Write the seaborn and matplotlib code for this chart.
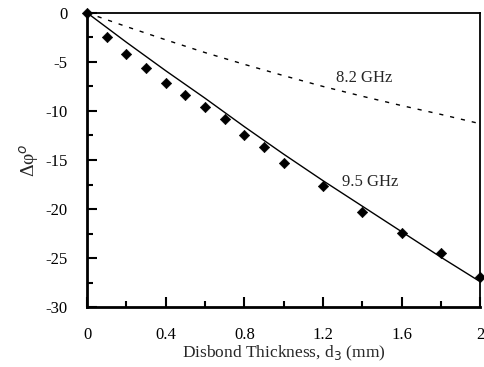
import numpy as np
import pandas as pd
import matplotlib
matplotlib.use("Agg")
import matplotlib.pyplot as plt
from matplotlib.ticker import MultipleLocator, FixedLocator
import seaborn as sns

# Data
meas_x = [0.0, 0.1, 0.2, 0.3, 0.4, 0.5, 0.6, 0.7, 0.8, 0.9, 1.0, 1.2, 1.4, 1.6, 1.8, 2.0]
meas_y = [0.0, -2.5, -4.2, -5.6, -7.1, -8.4, -9.6, -10.8, -12.4, -13.7, -15.3, -17.6, -20.3, -22.4, -24.5, -26.9]
line_x = [0.0, 0.2, 0.4, 0.6, 0.8, 1.0, 1.2, 1.4, 1.6, 1.8, 2.0]
theory_95 = [0.0, -3.0, -5.9, -8.7, -11.6, -14.4, -17.1, -19.7, -22.3, -24.9, -27.4]
theory_82 = [0.0, -1.4, -2.75, -4.05, -5.25, -6.4, -7.5, -8.5, -9.45, -10.35, -11.3]
x_ticks = [0, 0.4, 0.8, 1.2, 1.6, 2]
x_ticklabels = ["0", "0.4", "0.8", "1.2", "1.6", "2"]
y_ticks = [0, -5, -10, -15, -20, -25, -30]
y_ticklabels = ["0", "-5", "-10", "-15", "-20", "-25", "-30"]

sns.set_style("ticks")
plt.rcParams['font.family'] = ['Liberation Serif', 'DejaVu Serif']
plt.rcParams['axes.unicode_minus'] = False

fig = plt.figure(figsize=(4.84, 3.67), dpi=100)
ax = fig.add_axes([0.18, 0.163, 0.812, 0.802])

df_line = pd.DataFrame({"x": line_x, "a": theory_95, "b": theory_82})
df_meas = pd.DataFrame({"x": meas_x, "y": meas_y})

sns.lineplot(data=df_line, x="x", y="a", ax=ax, color="black", lw=1.0)
sns.lineplot(data=df_line, x="x", y="b", ax=ax, color="black", lw=1.0, linestyle=(0, (3, 5)))
sns.scatterplot(data=df_meas, x="x", y="y", ax=ax, marker="D", s=28, color="black",
                edgecolor="black", zorder=5, clip_on=False)

ax.set_xlim(0, 2)
ax.set_ylim(-30, 0)
ax.xaxis.set_major_locator(FixedLocator(x_ticks))
ax.set_xticklabels(x_ticklabels)
ax.xaxis.set_minor_locator(MultipleLocator(0.2))
ax.yaxis.set_major_locator(FixedLocator(y_ticks))
ax.set_yticklabels(y_ticklabels)
ax.yaxis.set_minor_locator(MultipleLocator(2.5))

ax.tick_params(which="both", direction="in", top=False, right=False, labelsize=12,
               width=1.5, color="black", labelcolor="black")
ax.tick_params(which="major", length=7, pad=14)
ax.tick_params(which="minor", length=4)

for s in ax.spines.values():
    s.set_visible(True)
    s.set_color("black")
    s.set_linewidth(1.3)
ax.spines["left"].set_linewidth(2)
ax.spines["bottom"].set_linewidth(2)

ax.set_xlabel("Disbond Thickness, d$_3$ (mm)", fontsize=12.5, labelpad=1)
ax.set_ylabel("Δφ$^o$", fontsize=14, labelpad=3)

ax.text(1.41, -6.6, "8.2 GHz", fontsize=12, ha="center", va="center")
ax.text(1.44, -17.2, "9.5 GHz", fontsize=12, ha="center", va="center")

fig.savefig("out.png", dpi=100)
